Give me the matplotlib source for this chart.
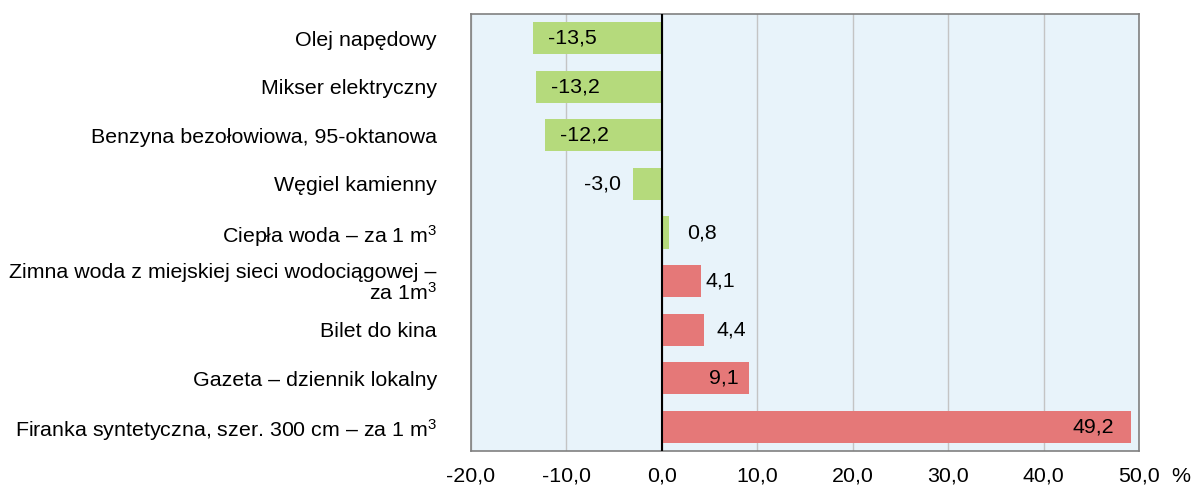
import matplotlib
matplotlib.use("Agg")
import matplotlib.pyplot as plt

plt.rcParams['font.family'] = ['Liberation Sans', 'DejaVu Sans']
plt.rcParams['mathtext.fontset'] = 'custom'
plt.rcParams['mathtext.rm'] = 'Liberation Sans'
plt.rcParams['mathtext.it'] = 'Liberation Sans'

categories = [
    "Olej napędowy",
    "Mikser elektryczny",
    "Benzyna bezołowiowa, 95-oktanowa",
    "Węgiel kamienny",
    "Ciepła woda – za 1 m$^3$",
    "Zimna woda z miejskiej sieci wodociągowej –\nza 1m$^3$",
    "Bilet do kina",
    "Gazeta – dziennik lokalny",
    "Firanka syntetyczna, szer. 300 cm – za 1 m$^3$",
]
values = [-13.5, -13.2, -12.2, -3.0, 0.8, 4.1, 4.4, 9.1, 49.2]
value_labels = ["-13,5", "-13,2", "-12,2", "-3,0", "0,8", "4,1", "4,4", "9,1", "49,2"]
bar_colors = ["#B5DA7C"] * 5 + ["#E57878"] * 4
xticks = [-20, -10, 0, 10, 20, 30, 40, 50]
xtick_labels = ["-20,0", "-10,0", "0,0", "10,0", "20,0", "30,0", "40,0", "50,0"]

# label placement: (pixel offset from bar end, horizontal alignment)
label_offsets = [(15, 'left'), (15, 'left'), (15, 'left'), (-12, 'right'),
                 (18, 'left'), (5, 'left'), (13, 'left'), (-10, 'right'), (-17, 'right')]

FS = 15.4

fig = plt.figure(figsize=(11.95, 4.86), dpi=100)
ax = fig.add_axes([471/1195, 1 - 451/486, (1139 - 471)/1195, (451 - 14)/486])
ax.set_facecolor("#E8F3FA")

y = list(range(len(categories)))
ax.barh(y, values, height=0.66, color=bar_colors, zorder=3)
ax.set_ylim(len(categories) - 0.5, -0.5)
ax.set_xlim(-20, 50)

ax.set_xticks(xticks)
ax.set_xticklabels(xtick_labels)
ax.set_yticks(y)
ax.set_yticklabels(categories, ha='right', linespacing=1.0)
ax.tick_params(axis='y', length=0, pad=24.5, labelsize=FS)
ax.tick_params(axis='x', length=0, pad=11.5, labelsize=FS)

ax.grid(axis='x', color='#C4C4C4', linewidth=1, zorder=1)
ax.axvline(0, color='black', linewidth=1.5, zorder=4)

for s in ax.spines.values():
    s.set_color('#808080')
    s.set_linewidth(1.2)

for yi, v, lab, (off, ha) in zip(y, values, value_labels, label_offsets):
    px = off / 100 * 72
    ax.annotate(lab, xy=(v, yi), xytext=(px, 0), textcoords='offset points',
                ha=ha, va='center', fontsize=FS, zorder=5)

fig.text(1181/1195, 1 - 476/486, "%", ha='center', va='center', fontsize=FS)

fig.savefig("out.png", dpi=100)
